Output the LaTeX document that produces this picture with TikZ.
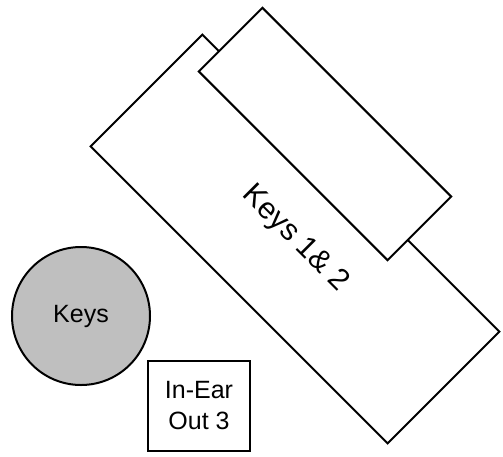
\documentclass[tikz,border=0pt]{standalone}
\usepackage{fontspec}
\setmainfont{Liberation Sans}
\usepackage{tikz}
\usetikzlibrary{positioning, shapes}

\begin{document}
\begin{tikzpicture}[x=0.5pt, y=-0.5pt, font=\fontsize{12.5}{15.5}\selectfont]
		\tikzstyle{stage} = [draw=black, line width=1pt, fill=white, rectangle, rotate=-45, inner sep=0pt]
		\tikzstyle{round} = [draw=black, line width=1pt, fill=black!25, circle, inner sep=0pt, minimum size=69pt]
		\tikzstyle{box} = [draw=black, line width=1pt, fill=white, rectangle, align=center, inner sep=0pt]
		
		\useasboundingbox (0, 0) rectangle (503, 456);
		
		\node[stage, minimum width=210pt, minimum height=79pt, font=\fontsize{15}{18}\selectfont]	at (295, 239)	(keys12)	{Keys 1\& 2};
		\node[stage, minimum width=133.5pt, minimum height=45pt]	at (325, 134)	(riser)	{};
		\node[round]	at (81, 316)	(keys)	{Keys};
		\node[box, minimum width=51pt, minimum height=45pt]	at (199, 406)	(inear)	{In-Ear\\Out 3};
	\end{tikzpicture}
\end{document}
